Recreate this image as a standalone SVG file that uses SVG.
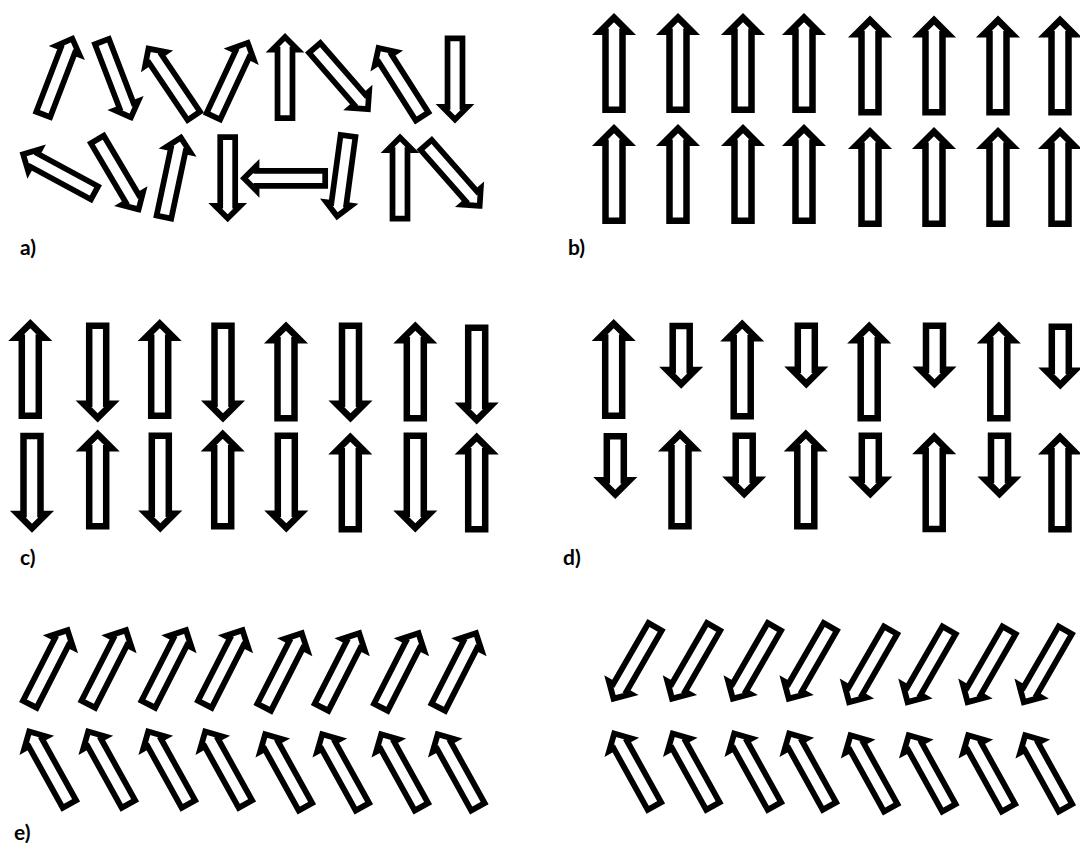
<svg xmlns="http://www.w3.org/2000/svg" xmlns:xlink="http://www.w3.org/1999/xlink" width="1080" height="845" viewBox="0 0 1080 845">
<style>
.ar{fill:#fff;stroke:#000;stroke-width:6.5;stroke-linejoin:miter;stroke-miterlimit:4}
.lb{font-family:Lato,"Liberation Sans",sans-serif;font-weight:bold;font-size:21px;fill:#000}
</style>
<defs>
<path id="L" class="ar" d="M0,-45.4 L14.2,-31.2 L8.5,-31.2 L8.5,46.8 L-8.5,46.8 L-8.5,-31.2 L-14.2,-31.2 Z"/>
<path id="S" class="ar" d="M0,-28.4 L14.2,-14.2 L8.5,-14.2 L8.5,29.8 L-8.5,29.8 L-8.5,-14.2 L-14.2,-14.2 Z"/>
</defs>
<rect width="1080" height="845" fill="#fff"/>

<g id="panel-a">
<use href="#L" transform="translate(58,76) rotate(21) scale(0.88)"/>
<use href="#L" transform="translate(116.7,80) rotate(159) scale(0.88)"/>
<use href="#L" transform="translate(170.8,81.7) rotate(-34) scale(0.88)"/>
<use href="#L" transform="translate(230.8,79) rotate(25) scale(0.88)"/>
<use href="#L" transform="translate(285,77) scale(0.88)"/>
<use href="#L" transform="translate(341.7,79) rotate(139) scale(0.88)"/>
<use href="#L" transform="translate(400,81.7) rotate(-32.5) scale(0.88)"/>
<use href="#L" transform="translate(455,79.5) rotate(180) scale(0.88)"/>
<use href="#L" transform="translate(58.3,173.3) rotate(-61.6) scale(0.88)"/>
<use href="#L" transform="translate(118.3,175) rotate(149.4) scale(0.88)"/>
<use href="#L" transform="translate(172.5,176.7) rotate(12) scale(0.88)"/>
<use href="#L" transform="translate(227.7,178.3) rotate(180) scale(0.88)"/>
<use href="#L" transform="translate(284,178.3) rotate(-90) scale(0.88)"/>
<use href="#L" transform="translate(342.5,176.7) rotate(187.7) scale(0.88)"/>
<use href="#L" transform="translate(400,177.5) scale(0.88)"/>
<use href="#L" transform="translate(453.3,175.8) rotate(138.7) scale(0.88)"/>
<text class="lb" x="20" y="255">a)</text>
</g>

<g id="panel-b">
<use href="#L" transform="translate(614,63)"/>
<use href="#L" transform="translate(678,63)"/>
<use href="#L" transform="translate(743,63)"/>
<use href="#L" transform="translate(804,63)"/>
<use href="#L" transform="translate(870,65.5)"/>
<use href="#L" transform="translate(934,65.5)"/>
<use href="#L" transform="translate(998,65.5)"/>
<use href="#L" transform="translate(1060,65.5)"/>
<use href="#L" transform="translate(614,174)"/>
<use href="#L" transform="translate(678,174)"/>
<use href="#L" transform="translate(743,174)"/>
<use href="#L" transform="translate(804,174)"/>
<use href="#L" transform="translate(870,177)"/>
<use href="#L" transform="translate(934,177)"/>
<use href="#L" transform="translate(998,177)"/>
<use href="#L" transform="translate(1060,177)"/>
<text class="lb" x="568" y="255">b)</text>
</g>

<g id="panel-c">
<use href="#L" transform="translate(30.3,369)"/>
<use href="#L" transform="translate(97.7,372.5) rotate(180)"/>
<use href="#L" transform="translate(159.7,369)"/>
<use href="#L" transform="translate(223,372.5) rotate(180)"/>
<use href="#L" transform="translate(286,371.5)"/>
<use href="#L" transform="translate(350.5,372.5) rotate(180)"/>
<use href="#L" transform="translate(415.3,371.5)"/>
<use href="#L" transform="translate(476.7,374.5) rotate(180)"/>
<use href="#L" transform="translate(32,482.8) rotate(180)"/>
<use href="#L" transform="translate(97.7,479.5)"/>
<use href="#L" transform="translate(160.3,482.5) rotate(180)"/>
<use href="#L" transform="translate(222.7,479.5)"/>
<use href="#L" transform="translate(286.3,482.5) rotate(180)"/>
<use href="#L" transform="translate(350.3,482.5)"/>
<use href="#L" transform="translate(415.3,482.5) rotate(180)"/>
<use href="#L" transform="translate(476.7,482.5)"/>
<text class="lb" x="20" y="565">c)</text>
</g>

<g id="panel-d">
<use href="#L" transform="translate(613.7,369)"/>
<use href="#S" transform="translate(681.2,355.7) rotate(180)"/>
<use href="#L" transform="translate(742.2,369.5)"/>
<use href="#S" transform="translate(806.3,355.5) rotate(180)"/>
<use href="#L" transform="translate(869.2,371.5)"/>
<use href="#S" transform="translate(934.5,355.5) rotate(180)"/>
<use href="#L" transform="translate(998.8,371.5)"/>
<use href="#S" transform="translate(1060.3,356.5) rotate(180)"/>
<use href="#S" transform="translate(615.3,466) rotate(180)"/>
<use href="#L" transform="translate(680,479.5)"/>
<use href="#S" transform="translate(744.2,465.5) rotate(180)"/>
<use href="#L" transform="translate(805.8,479.5)"/>
<use href="#S" transform="translate(870.3,465.5) rotate(180)"/>
<use href="#L" transform="translate(934.2,482.3)"/>
<use href="#S" transform="translate(999.5,465.5) rotate(180)"/>
<use href="#L" transform="translate(1060,482.5)"/>
<text class="lb" x="563" y="565">d)</text>
</g>

<g id="panel-e">
<use href="#L" transform="translate(49,666.7) rotate(27) scale(0.9)"/>
<use href="#L" transform="translate(107.5,666.7) rotate(27) scale(0.9)"/>
<use href="#L" transform="translate(167.5,666.7) rotate(27) scale(0.9)"/>
<use href="#L" transform="translate(224,666.7) rotate(27) scale(0.9)"/>
<use href="#L" transform="translate(283.3,669.7) rotate(27) scale(0.9)"/>
<use href="#L" transform="translate(340.7,669.7) rotate(27) scale(0.9)"/>
<use href="#L" transform="translate(400,669.7) rotate(27) scale(0.9)"/>
<use href="#L" transform="translate(457.5,669.7) rotate(27) scale(0.9)"/>
<use href="#L" transform="translate(49,767.3) rotate(-29) scale(0.9)"/>
<use href="#L" transform="translate(108,767.3) rotate(-29) scale(0.9)"/>
<use href="#L" transform="translate(168,767.3) rotate(-29) scale(0.9)"/>
<use href="#L" transform="translate(225,767.3) rotate(-29) scale(0.9)"/>
<use href="#L" transform="translate(285,770) rotate(-29) scale(0.9)"/>
<use href="#L" transform="translate(342,770) rotate(-29) scale(0.9)"/>
<use href="#L" transform="translate(401,770) rotate(-29) scale(0.9)"/>
<use href="#L" transform="translate(457.5,770) rotate(-29) scale(0.9)"/>
<text class="lb" x="14" y="840">e)</text>
</g>

<g id="panel-f">
<use href="#L" transform="translate(634,663.3) rotate(210) scale(0.9)"/>
<use href="#L" transform="translate(692.5,663.3) rotate(210) scale(0.9)"/>
<use href="#L" transform="translate(753.3,663.3) rotate(210) scale(0.9)"/>
<use href="#L" transform="translate(809.2,663.3) rotate(210) scale(0.9)"/>
<use href="#L" transform="translate(869.5,666.7) rotate(210) scale(0.9)"/>
<use href="#L" transform="translate(928,666.7) rotate(210) scale(0.9)"/>
<use href="#L" transform="translate(988,666.7) rotate(210) scale(0.9)"/>
<use href="#L" transform="translate(1044.2,666.7) rotate(210) scale(0.9)"/>
<use href="#L" transform="translate(634,769.3) rotate(-29) scale(0.9)"/>
<use href="#L" transform="translate(692.5,769.3) rotate(-29) scale(0.9)"/>
<use href="#L" transform="translate(754,769.3) rotate(-29) scale(0.9)"/>
<use href="#L" transform="translate(809,769.3) rotate(-29) scale(0.9)"/>
<use href="#L" transform="translate(870.3,771) rotate(-29) scale(0.9)"/>
<use href="#L" transform="translate(928.5,771) rotate(-29) scale(0.9)"/>
<use href="#L" transform="translate(988,771) rotate(-29) scale(0.9)"/>
<use href="#L" transform="translate(1045,771) rotate(-29) scale(0.9)"/>
</g>
</svg>
